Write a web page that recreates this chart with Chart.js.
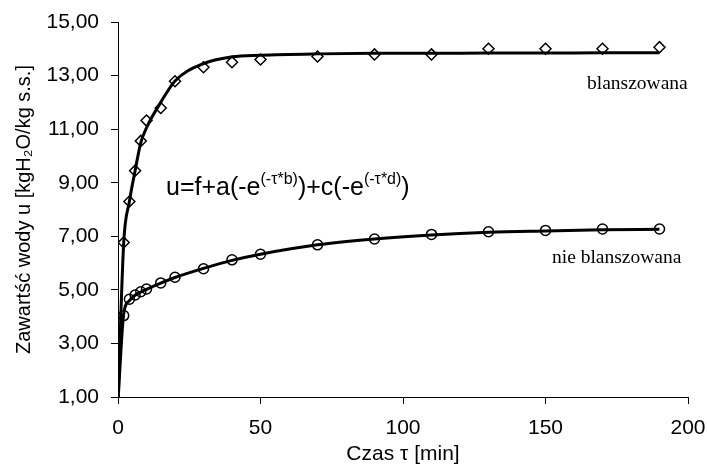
<!DOCTYPE html>
<html>
<head>
<meta charset="utf-8">
<script src="https://cdn.jsdelivr.net/npm/chart.js@4"></script>
<style>
  html, body { margin: 0; padding: 0; background: #fff; }
  #wrap { width: 707px; height: 468px; position: relative; }
</style>
</head>
<body>
<div id="wrap"><canvas id="c" width="707" height="468"></canvas></div>
<script>
// ---- data ----
const timeMeasured = [2, 4, 6, 8, 10, 15, 20, 30, 40, 50, 70, 90, 110, 130, 150, 170, 190];
const blanchedMeasured = [6.77, 8.30, 9.45, 10.56, 11.32, 11.79, 12.79, 13.31, 13.50, 13.60, 13.71, 13.79, 13.79, 14.00, 14.00, 14.00, 14.06];
const unblanchedMeasured = [4.04, 4.65, 4.81, 4.93, 5.03, 5.26, 5.47, 5.79, 6.12, 6.33, 6.68, 6.90, 7.07, 7.17, 7.22, 7.27, 7.27];

const timeFit = [0, 2, 4, 6, 8, 10, 15, 20, 30, 40, 50, 70, 90, 110, 130, 150, 170, 190];
const blanchedFit = [0.85, 6.75, 8.30, 9.45, 10.50, 11.05, 12.00, 12.80, 13.45, 13.70, 13.76, 13.81, 13.83, 13.83, 13.84, 13.84, 13.85, 13.85];
const unblanchedFit = [0.85, 4.10, 4.60, 4.80, 4.92, 5.02, 5.25, 5.46, 5.80, 6.10, 6.33, 6.68, 6.90, 7.05, 7.15, 7.20, 7.24, 7.26];

const xTickValues = [0, 50, 100, 150, 200];
const yTickValues = [1, 3, 5, 7, 9, 11, 13, 15];

const seriesLabels = ['blanszowana', 'nie blanszowana'];
const xTitle = 'Czas \u03C4 [min]';
const yTitle = 'Zawartść wody u [kgH\u2082O/kg s.s.]';

// ---- helpers ----
const pts = (xs, ys) => xs.map((x, i) => ({ x: x, y: ys[i] }));
const fmt = v => Number(v).toFixed(2).replace('.', ',');

const SANS = "'Liberation Sans', Arial, sans-serif";
const SERIF = "'Liberation Serif', 'Times New Roman', serif";

// annotation plugin: series labels and the model formula
const annotations = {
  id: 'annotations',
  afterDraw(chart) {
    const ctx = chart.ctx;
    ctx.save();
    ctx.fillStyle = '#000';
    ctx.textBaseline = 'alphabetic';
    ctx.textAlign = 'left';
    ctx.font = '19.5px ' + SERIF;
    ctx.fillText(seriesLabels[0], 587, 89);
    ctx.fillText(seriesLabels[1], 552, 263);

    // formula u=f+a(-e^(-τ*b))+c(-e^(-τ*d))
    const parts = [
      ['u=f+a(-e', false], ['(-\u03C4*b)', true],
      [')+c(-e', false], ['(-\u03C4*d)', true], [')', false]
    ];
    let x = 166;
    const base = 195;
    for (const [t, sup] of parts) {
      ctx.font = (sup ? '16px ' : '25px ') + SANS;
      ctx.fillText(t, x, sup ? base - 11 : base);
      x += ctx.measureText(t).width;
    }
    ctx.restore();
  }
};

new Chart(document.getElementById('c'), {
  type: 'scatter',
  data: {
    datasets: [
      {
        label: seriesLabels[0] + ' (model)',
        data: pts(timeFit, blanchedFit),
        showLine: true,
        borderColor: '#000',
        borderWidth: 3,
        pointRadius: 0,
        cubicInterpolationMode: 'monotone',
        fill: false
      },
      {
        label: seriesLabels[1] + ' (model)',
        data: pts(timeFit, unblanchedFit),
        showLine: true,
        borderColor: '#000',
        borderWidth: 3,
        pointRadius: 0,
        cubicInterpolationMode: 'monotone',
        fill: false
      },
      {
        label: seriesLabels[0],
        data: pts(timeMeasured, blanchedMeasured),
        showLine: false,
        pointStyle: 'rectRot',
        pointRadius: 5.5,
        borderWidth: 1.5,
        borderColor: '#000',
        backgroundColor: 'rgba(255,255,255,0)'
      },
      {
        label: seriesLabels[1],
        data: pts(timeMeasured, unblanchedMeasured),
        showLine: false,
        pointStyle: 'circle',
        pointRadius: 5,
        borderWidth: 1.5,
        borderColor: '#000',
        backgroundColor: 'rgba(255,255,255,0)'
      }
    ]
  },
  options: {
    responsive: false,
    animation: false,
    devicePixelRatio: 1,
    layout: { padding: { left: 0, right: 19, top: 22, bottom: 0 } },
    plugins: {
      legend: { display: false },
      tooltip: { enabled: false }
    },
    scales: {
      x: {
        type: 'linear',
        min: 0, max: 200,
        afterBuildTicks: s => { s.ticks = xTickValues.map(v => ({ value: v })); },
        afterFit: s => { s.height = 71; s.paddingLeft = 0; s.paddingRight = 0; },
        border: { color: '#000', width: 1 },
        grid: { drawOnChartArea: false, drawTicks: true, tickLength: 7, color: '#000' },
        ticks: { color: '#000', padding: 12, font: { family: SANS, size: 21 } },
        title: { display: true, text: xTitle, color: '#000', font: { family: SANS, size: 21 }, padding: { top: 0, bottom: 1 } }
      },
      y: {
        type: 'linear',
        min: 1, max: 15,
        afterBuildTicks: s => { s.ticks = yTickValues.map(v => ({ value: v })); },
        afterFit: s => { s.width = 118; s.paddingTop = 0; s.paddingBottom = 0; },
        border: { color: '#000', width: 1 },
        grid: { drawOnChartArea: false, drawTicks: true, tickLength: 7, color: '#000' },
        ticks: { color: '#000', padding: 12, font: { family: SANS, size: 21 }, callback: v => fmt(v) },
        title: { display: true, text: yTitle, color: '#000', font: { family: SANS, size: 20 }, padding: { top: 12, bottom: 0 } }
      }
    }
  },
  plugins: [annotations]
});
</script>
</body>
</html>
